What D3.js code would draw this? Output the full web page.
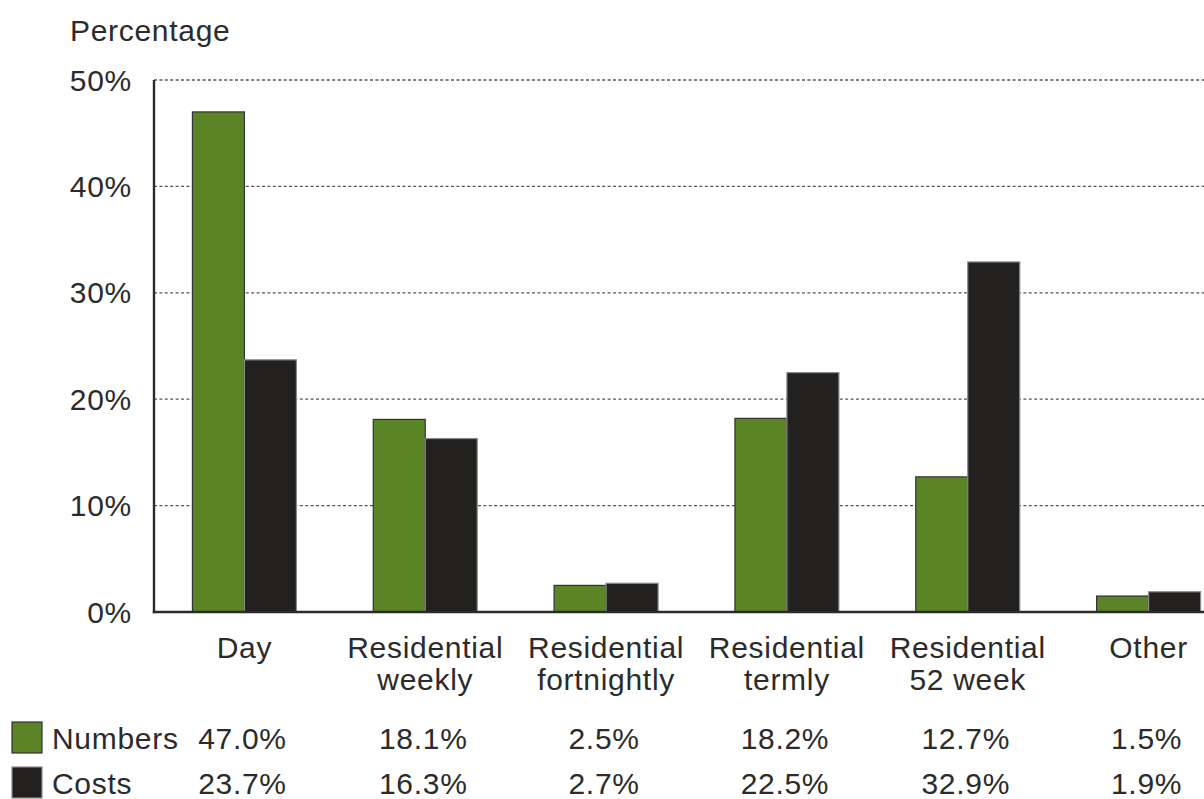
<!DOCTYPE html>
<html>
<head>
<meta charset="utf-8">
<script src="https://cdn.jsdelivr.net/npm/d3@7"></script>
<style>
  html, body { margin: 0; padding: 0; background: #fff; }
  svg { display: block; }
  text { font-family: "Liberation Sans", Arial, sans-serif; fill: #2b2b2b; letter-spacing: 0.7px; }
</style>
</head>
<body>
<svg id="chart" width="1204" height="799"></svg>
<script>
const categories = [["Day"], ["Residential", "weekly"], ["Residential", "fortnightly"], ["Residential", "termly"], ["Residential", "52 week"], ["Other"]];
const seriesNames = ["Numbers", "Costs"];
const numbers = [47.0, 18.1, 2.5, 18.2, 12.7, 1.5];
const costs = [23.7, 16.3, 2.7, 22.5, 32.9, 1.9];
const yTicks = [0, 10, 20, 30, 40, 50];

const colors = { Numbers: "#5b8427", Costs: "#22211f" };
const strokes = { Numbers: "#333", Costs: "#8a8a8a" };

const svg = d3.select("#chart");
const fs = 30;
const baseY = 612, topY = 80, axisX = 154;

const catKeys = categories.map((c, i) => i);
const x = d3.scaleBand().domain(catKeys).range([axisX, 1239]).paddingInner(0.425).paddingOuter(0.2125);
const xs = d3.scaleBand().domain(seriesNames).range([0, x.bandwidth()]);
const y = d3.scaleLinear().domain([0, 50]).range([baseY, topY]);

// gridlines
svg.append("g").selectAll("line").data(yTicks.filter(d => d > 0)).join("line")
  .attr("x1", axisX).attr("x2", 1204)
  .attr("y1", d => y(d)).attr("y2", d => y(d))
  .attr("stroke", "#555").attr("stroke-width", 1.3).attr("stroke-dasharray", "3,2.4");

// y tick labels
svg.append("g").selectAll("text").data(yTicks).join("text")
  .attr("x", 132).attr("y", d => y(d) + 10.5)
  .attr("text-anchor", "end").attr("font-size", fs)
  .text(d => d + "%");

svg.append("text").attr("x", 70).attr("y", 41).attr("font-size", fs).text("Percentage");

// bars
const data = [];
catKeys.forEach(i => {
  data.push({ cat: i, s: "Numbers", v: numbers[i] });
  data.push({ cat: i, s: "Costs", v: costs[i] });
});
svg.append("g").selectAll("rect").data(data).join("rect")
  .attr("x", d => x(d.cat) + xs(d.s))
  .attr("y", d => y(d.v))
  .attr("width", xs.bandwidth())
  .attr("height", d => baseY - y(d.v))
  .attr("fill", d => colors[d.s])
  .attr("stroke", d => strokes[d.s]).attr("stroke-width", 1.2);

// axes lines
svg.append("line").attr("x1", axisX).attr("x2", axisX).attr("y1", topY).attr("y2", baseY + 1.2)
  .attr("stroke", "#2b2b2b").attr("stroke-width", 2.4);
svg.append("line").attr("x1", axisX - 1.2).attr("x2", 1204).attr("y1", baseY).attr("y2", baseY)
  .attr("stroke", "#2b2b2b").attr("stroke-width", 2.4);

// category labels
const cl = svg.append("g").selectAll("text").data(catKeys).join("text")
  .attr("text-anchor", "middle").attr("font-size", fs)
  .attr("x", i => x(i) + x.bandwidth() / 2).attr("y", 658);
cl.selectAll("tspan").data(i => categories[i].map(t => ({ t, cx: x(i) + x.bandwidth() / 2 }))).join("tspan")
  .attr("x", d => d.cx).attr("dy", (d, j) => j === 0 ? 0 : 32).text(d => d.t);

// table
const rows = [{ s: "Numbers", vals: numbers, y: 749 }, { s: "Costs", vals: costs, y: 794 }];
rows.forEach(r => {
  svg.append("rect").attr("x", 12).attr("y", r.y - 27).attr("width", 30).attr("height", 31)
    .attr("fill", colors[r.s]).attr("stroke", r.s === "Numbers" ? "#333" : "#8a8a8a").attr("stroke-width", 1.2);
  svg.append("text").attr("x", 52).attr("y", r.y).attr("font-size", fs).text(r.s);
  svg.append("g").selectAll("text").data(catKeys).join("text")
    .attr("x", i => x(i) + x.bandwidth() / 2 - 2).attr("y", r.y)
    .attr("text-anchor", "middle").attr("font-size", fs)
    .text(i => r.vals[i].toFixed(1) + "%");
});
</script>
</body>
</html>
